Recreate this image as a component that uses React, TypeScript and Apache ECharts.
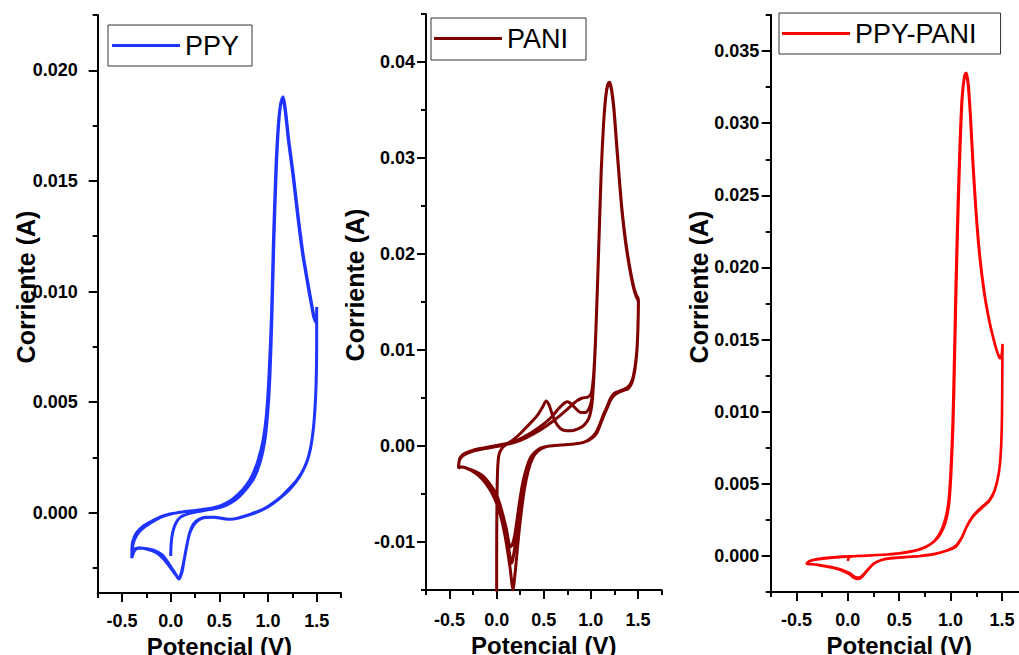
import React, { useEffect, useRef } from "react";
import * as echarts from "echarts";

type P = [number, number];

// ---------- tick values ----------
const xMajorTicks = [-0.5, 0, 0.5, 1.0, 1.5];
const xMinorTicks = [-0.75, -0.25, 0.25, 0.75, 1.25, 1.75];

const ppyMajorTicks = [0, 0.005, 0.01, 0.015, 0.02];
const ppyMinorTicks = [-0.0025, 0.0025, 0.0075, 0.0125, 0.0175, 0.0225];
const paniMajorTicks = [-0.01, 0, 0.01, 0.02, 0.03, 0.04];
const paniMinorTicks = [-0.015, -0.005, 0.005, 0.015, 0.025, 0.035, 0.045];
const mixMajorTicks = [0, 0.005, 0.01, 0.015, 0.02, 0.025, 0.03, 0.035];
const mixMinorTicks = [-0.0025, 0.0025, 0.0075, 0.0125, 0.0175, 0.0225, 0.0275, 0.0325, 0.0375];

const seriesNames = ["PPY", "PANI", "PPY-PANI"];

// ---------- PPY (potential V, current A) ----------
const ppyStart: P[] = [
  [0.0, -0.00196], [0.005, -0.0014], [0.02, -0.0009], [0.05, -0.0005], [0.1, -0.0002], [0.18, -0.00005], [0.28, 0.00005],
];
const ppyCycle1: P[] = [
  [0.4, 0.00014], [0.52, 0.00025], [0.62, 0.00045], [0.71, 0.00075], [0.79, 0.00115], [0.86, 0.0016], [0.92, 0.0023],
  [0.965, 0.0032], [0.995, 0.0044], [1.02, 0.0062], [1.04, 0.0088], [1.06, 0.0122], [1.085, 0.0155], [1.11, 0.0176],
  [1.135, 0.0186], [1.155, 0.0188], [1.18, 0.0182], [1.215, 0.0168], [1.26, 0.0153], [1.31, 0.0134], [1.36, 0.0117],
  [1.41, 0.0104], [1.45, 0.0094], [1.48, 0.0087], [1.495, 0.0086], [1.5, 0.0093],
  [1.5, 0.0079], [1.495, 0.006], [1.48, 0.0045], [1.455, 0.0034], [1.42, 0.0026], [1.37, 0.002], [1.3, 0.0015],
  [1.22, 0.0011], [1.13, 0.0007], [1.04, 0.0004], [0.95, 0.00015], [0.83, -0.00005], [0.72, -0.0002], [0.62, -0.0003],
  [0.54, -0.00026], [0.45, -0.0002], [0.36, -0.0002], [0.29, -0.0003], [0.235, -0.0005], [0.195, -0.0009],
  [0.165, -0.0015], [0.14, -0.0021], [0.115, -0.0027], [0.085, -0.003], [0.05, -0.0028], [0.0, -0.0025],
  [-0.07, -0.0021], [-0.15, -0.0018], [-0.24, -0.00165], [-0.32, -0.0016], [-0.37, -0.0017], [-0.4, -0.00205],
];
const ppyCycle2: P[] = [
  [-0.395, -0.0016], [-0.37, -0.0012], [-0.33, -0.0009], [-0.27, -0.00065], [-0.19, -0.00042], [-0.1, -0.0002],
  [0.0, -0.00006], [0.12, 0.00003], [0.25, 0.0001], [0.38, 0.00018], [0.5, 0.0003], [0.6, 0.0005], [0.69, 0.00082],
  [0.77, 0.0012], [0.84, 0.0017], [0.9, 0.0024], [0.95, 0.0033], [0.985, 0.0045], [1.01, 0.0062], [1.035, 0.0088],
  [1.055, 0.0122], [1.08, 0.0155], [1.105, 0.0175], [1.13, 0.0185], [1.15, 0.0187], [1.175, 0.0182], [1.21, 0.0168],
  [1.255, 0.0153], [1.305, 0.0134], [1.355, 0.0117], [1.405, 0.0104], [1.45, 0.0093], [1.48, 0.0087], [1.495, 0.0087],
  [1.5, 0.0092],
  [1.5, 0.0078], [1.495, 0.0059], [1.478, 0.0044], [1.452, 0.0033], [1.415, 0.0025], [1.36, 0.0019], [1.29, 0.0014],
  [1.21, 0.001], [1.12, 0.00065], [1.03, 0.00035], [0.93, 0.0001], [0.81, -0.0001], [0.7, -0.00024], [0.61, -0.0003],
  [0.53, -0.00026], [0.44, -0.0002], [0.35, -0.00022], [0.28, -0.00035], [0.23, -0.0006], [0.19, -0.001],
  [0.16, -0.0016], [0.135, -0.0022], [0.11, -0.0027], [0.08, -0.00295], [0.04, -0.0027], [-0.02, -0.0023],
  [-0.09, -0.0019], [-0.17, -0.0017], [-0.26, -0.00162], [-0.33, -0.0016], [-0.38, -0.00165], [-0.4, -0.0017],
];
const ppyEnd: P[] = [
  [-0.39, -0.0013], [-0.35, -0.0009], [-0.28, -0.0006], [-0.2, -0.0004], [-0.1, -0.00018], [0.0, -0.00004],
];

// ---------- PANI ----------
const paniStart: P[] = [
  [0.0, -0.02], [0.0, -0.012], [0.003, -0.006], [0.01, -0.0025], [0.025, -0.0009], [0.06, -0.0002], [0.11, 0.0002],
];
const paniCycle1: P[] = [
  [0.17, 0.0006], [0.24, 0.0012], [0.31, 0.0019], [0.38, 0.0026], [0.44, 0.0033], [0.49, 0.0041], [0.525, 0.0047],
  [0.555, 0.0043], [0.59, 0.0033], [0.63, 0.0024], [0.68, 0.0018], [0.74, 0.0016], [0.8, 0.0016], [0.87, 0.0018],
  [0.93, 0.0022], [0.98, 0.0029], [1.01, 0.0042], [1.03, 0.0068], [1.05, 0.011], [1.07, 0.0165], [1.09, 0.0225],
  [1.11, 0.0285], [1.135, 0.0335], [1.16, 0.0365], [1.185, 0.0378], [1.2, 0.0379], [1.22, 0.0372], [1.245, 0.0352],
  [1.27, 0.032], [1.3, 0.0282], [1.33, 0.0247], [1.37, 0.0213], [1.41, 0.0188], [1.45, 0.0168], [1.48, 0.0158],
  [1.5, 0.0154],
  [1.505, 0.0152], [1.5, 0.0125], [1.49, 0.0102], [1.47, 0.0083], [1.44, 0.0069], [1.4, 0.0062], [1.35, 0.0059],
  [1.3, 0.0057], [1.25, 0.0055], [1.21, 0.005], [1.18, 0.0043], [1.14, 0.0034], [1.1, 0.0024], [1.06, 0.0015],
  [1.01, 0.0009], [0.93, 0.0004], [0.82, 0.0002], [0.68, 0.0001], [0.56, 0.0], [0.47, -0.0002], [0.41, -0.0006],
  [0.36, -0.0012], [0.32, -0.0022], [0.28, -0.0037], [0.245, -0.0057], [0.215, -0.0078], [0.19, -0.0094],
  [0.165, -0.0103], [0.145, -0.0105], [0.1, -0.0085], [0.05, -0.0066], [0.0, -0.0051], [-0.07, -0.004],
  [-0.15, -0.0031], [-0.24, -0.0026], [-0.32, -0.0023], [-0.38, -0.0022], [-0.405, -0.0023],
];
const paniCycle2: P[] = [
  [-0.395, -0.0014], [-0.37, -0.001], [-0.32, -0.0007], [-0.24, -0.0004], [-0.14, -0.0002], [-0.03, 0.0], [0.08, 0.0002],
  [0.2, 0.0005], [0.3, 0.001], [0.4, 0.0016], [0.5, 0.0023], [0.58, 0.003], [0.65, 0.0038], [0.71, 0.0044],
  [0.75, 0.0046], [0.79, 0.0044], [0.84, 0.0039], [0.89, 0.0035], [0.94, 0.0035], [0.98, 0.0039], [1.01, 0.0049],
  [1.03, 0.0072], [1.05, 0.0112], [1.07, 0.0166], [1.09, 0.0226], [1.11, 0.0286], [1.135, 0.0336], [1.16, 0.0366],
  [1.185, 0.0378], [1.2, 0.0378], [1.22, 0.0371], [1.245, 0.0351], [1.27, 0.0319], [1.3, 0.0281], [1.33, 0.0246],
  [1.37, 0.0212], [1.41, 0.0187], [1.45, 0.0167], [1.48, 0.0157], [1.5, 0.0153],
  [1.505, 0.0151], [1.5, 0.0124], [1.49, 0.0101], [1.47, 0.0082], [1.44, 0.0068], [1.4, 0.0061], [1.35, 0.0058],
  [1.3, 0.0057], [1.25, 0.0054], [1.21, 0.0049], [1.18, 0.0042], [1.14, 0.0033], [1.1, 0.0023], [1.06, 0.0014],
  [1.01, 0.0008], [0.93, 0.0004], [0.82, 0.0002], [0.68, 0.0001], [0.56, 0.0], [0.48, -0.0002], [0.42, -0.0006],
  [0.37, -0.0012], [0.33, -0.0022], [0.29, -0.0038], [0.255, -0.006], [0.225, -0.0083], [0.195, -0.0104],
  [0.172, -0.0118], [0.16, -0.0122], [0.12, -0.0102], [0.07, -0.0078], [0.02, -0.006], [-0.05, -0.0046],
  [-0.13, -0.0035], [-0.22, -0.0028], [-0.3, -0.0024], [-0.37, -0.0022], [-0.405, -0.0022],
];
const paniCycle3: P[] = [
  [-0.395, -0.0015], [-0.37, -0.0011], [-0.32, -0.0008], [-0.24, -0.0005], [-0.14, -0.0003], [-0.03, -0.0001],
  [0.08, 0.0001], [0.2, 0.0004], [0.3, 0.0008], [0.4, 0.0013], [0.5, 0.0019], [0.6, 0.0026], [0.7, 0.0034],
  [0.78, 0.0041], [0.85, 0.0047], [0.91, 0.005], [0.97, 0.0051], [1.005, 0.0055], [1.03, 0.0075], [1.05, 0.0113],
  [1.07, 0.0167], [1.09, 0.0227], [1.11, 0.0287], [1.135, 0.0336], [1.16, 0.0366], [1.185, 0.0377], [1.2, 0.0377],
  [1.22, 0.037], [1.245, 0.035], [1.27, 0.0318], [1.3, 0.028], [1.33, 0.0245], [1.37, 0.0211], [1.41, 0.0186],
  [1.45, 0.0166], [1.48, 0.0156], [1.5, 0.0152],
  [1.505, 0.015], [1.5, 0.0123], [1.49, 0.01], [1.47, 0.0081], [1.44, 0.0067], [1.4, 0.006], [1.35, 0.0058],
  [1.3, 0.0056], [1.25, 0.0053], [1.21, 0.0048], [1.18, 0.0041], [1.14, 0.0032], [1.1, 0.0022], [1.06, 0.0013],
  [1.01, 0.0008], [0.93, 0.0004], [0.82, 0.0002], [0.68, 0.0001], [0.56, 0.0], [0.49, -0.0002], [0.43, -0.0006],
  [0.38, -0.0013], [0.34, -0.0024], [0.3, -0.0042], [0.265, -0.0066], [0.235, -0.0092], [0.21, -0.0118],
  [0.19, -0.0138], [0.175, -0.015], [0.14, -0.0125], [0.09, -0.0094], [0.04, -0.0072], [-0.02, -0.0055],
  [-0.1, -0.0041], [-0.19, -0.0031], [-0.28, -0.0025], [-0.36, -0.0022], [-0.405, -0.0022],
];

// ---------- PPY-PANI ----------
const mixStart: P[] = [
  [0.0, -0.00035], [0.01, -0.00012], [0.05, -0.00002], [0.12, 0.0],
];
const mixCycle1: P[] = [
  [0.25, 0.00005], [0.38, 0.0001], [0.5, 0.00018], [0.6, 0.0003], [0.69, 0.00045], [0.77, 0.00068], [0.84, 0.001],
  [0.9, 0.0015], [0.95, 0.0023], [0.985, 0.0036], [1.005, 0.0056], [1.025, 0.009], [1.04, 0.0135], [1.055, 0.0185],
  [1.075, 0.024], [1.095, 0.0285], [1.115, 0.0318], [1.14, 0.0334], [1.155, 0.0335], [1.175, 0.0326], [1.195, 0.0305],
  [1.22, 0.0272], [1.25, 0.0238], [1.285, 0.0208], [1.33, 0.0182], [1.38, 0.0162], [1.42, 0.015], [1.455, 0.0141],
  [1.48, 0.0137], [1.495, 0.0138], [1.505, 0.0147],
  [1.503, 0.0128], [1.5, 0.0098], [1.49, 0.0074], [1.47, 0.0058], [1.43, 0.0046], [1.38, 0.0039], [1.32, 0.0035],
  [1.26, 0.0031], [1.21, 0.0027], [1.16, 0.0021], [1.11, 0.0013], [1.05, 0.0007], [0.97, 0.0004], [0.85, 0.00015],
  [0.7, 0.0], [0.55, -0.00008], [0.42, -0.00015], [0.33, -0.00028], [0.26, -0.0005], [0.2, -0.0009], [0.15, -0.0013],
  [0.11, -0.0015], [0.07, -0.00145], [0.02, -0.0012], [-0.06, -0.00095], [-0.15, -0.00078], [-0.25, -0.00066],
  [-0.34, -0.00058], [-0.4, -0.00053],
];
const mixCycle2: P[] = [
  [-0.37, -0.00035], [-0.3, -0.00022], [-0.2, -0.00013], [-0.08, -0.00006], [0.05, -0.00002], [0.2, 0.00003],
  [0.35, 0.00008], [0.48, 0.00015], [0.6, 0.00028], [0.7, 0.00044], [0.78, 0.0007], [0.85, 0.0011], [0.905, 0.0017],
  [0.95, 0.0026], [0.98, 0.0038], [1.0, 0.0058], [1.02, 0.0092], [1.035, 0.0137], [1.05, 0.0187], [1.07, 0.0242],
  [1.09, 0.0287], [1.11, 0.0318], [1.135, 0.0333], [1.15, 0.0334], [1.17, 0.0326], [1.19, 0.0306], [1.215, 0.0273],
  [1.245, 0.0239], [1.28, 0.0209], [1.325, 0.0183], [1.375, 0.0163], [1.415, 0.0151], [1.45, 0.0142], [1.478, 0.0138],
  [1.495, 0.0139], [1.505, 0.0146],
  [1.503, 0.0127], [1.5, 0.0097], [1.49, 0.0073], [1.468, 0.0057], [1.428, 0.0045], [1.375, 0.0038], [1.315, 0.0034],
  [1.255, 0.003], [1.205, 0.0026], [1.155, 0.002], [1.105, 0.0012], [1.045, 0.0006], [0.96, 0.00035], [0.84, 0.00012],
  [0.69, -0.00002], [0.54, -0.0001], [0.41, -0.00017], [0.32, -0.0003], [0.25, -0.00055], [0.19, -0.001],
  [0.14, -0.00145], [0.1, -0.0016], [0.06, -0.00152], [0.01, -0.00125], [-0.07, -0.00098], [-0.16, -0.0008],
  [-0.26, -0.00067], [-0.35, -0.00058], [-0.4, -0.00055],
];
const mixEnd: P[] = [
  [-0.37, -0.00036], [-0.3, -0.00024], [-0.2, -0.00015], [-0.08, -0.00008], [0.02, -0.00004],
];

const ppyTrace: P[] = [...ppyStart, ...ppyCycle1, ...ppyCycle2, ...ppyEnd];
const paniTrace: P[] = [...paniStart, ...paniCycle1, ...paniCycle2, ...paniCycle3];
const mixTrace: P[] = [...mixStart, ...mixCycle1, ...mixCycle2, ...mixEnd];

// ---------- layout / style ----------
const FONT = '"Liberation Sans", Arial, Helvetica, sans-serif';

const panels = [
  {
    name: seriesNames[0], data: ppyTrace, color: "#1f35ff", lw: 3,
    yMin: -0.00363, yMax: 0.0225, yMajor: ppyMajorTicks, yMinor: ppyMinorTicks, dec: 3,
    grid: { left: 97.7, top: 15, width: 243.3, height: 578 },
    yLabelMargin: 20, xLabelMargin: 19,
    titleX: 26, titleY: 287,
    legend: { left: 108, top: 25, padding: [7, 13, 7, 4] },
  },
  {
    name: seriesNames[1], data: paniTrace, color: "#7f0000", lw: 3,
    yMin: -0.015, yMax: 0.045, yMajor: paniMajorTicks, yMinor: paniMinorTicks, dec: 2,
    grid: { left: 426, top: 14, width: 235.5, height: 576 },
    yLabelMargin: 11, xLabelMargin: 21,
    titleX: 355, titleY: 285,
    legend: { left: 431, top: 18, padding: [7, 18, 8, 3] },
  },
  {
    name: seriesNames[2], data: mixTrace, color: "#ff0000", lw: 2.6,
    yMin: -0.0025, yMax: 0.0375, yMajor: mixMajorTicks, yMinor: mixMinorTicks, dec: 3,
    grid: { left: 770.7, top: 15, width: 257, height: 577 },
    yLabelMargin: 11.5, xLabelMargin: 18.5,
    titleX: 699, titleY: 287,
    legend: { left: 779, top: 13, padding: [7, 24, 7, 3] },
  },
];

function buildOption(): any {
  const grid: any[] = [];
  const xAxis: any[] = [];
  const yAxis: any[] = [];
  const series: any[] = [];
  const legend: any[] = [];
  const graphic: any[] = [];
  const lineStyle = { color: "#000", width: 2 };
  const labelBase = { color: "#000", fontSize: 18, fontWeight: "bold", fontFamily: FONT };

  panels.forEach((p, i) => {
    grid.push({ ...p.grid, containLabel: false, outerBoundsMode: "none" });
    xAxis.push({
      type: "value", gridIndex: i, position: "bottom", min: -0.75, max: 1.75,
      axisLine: { show: true, onZero: false, lineStyle },
      axisTick: { show: true, length: 9, inside: false, customValues: xMajorTicks, lineStyle },
      axisLabel: { ...labelBase, margin: p.xLabelMargin, customValues: xMajorTicks, formatter: (v: number) => v.toFixed(1) },
      splitLine: { show: false },
      name: "Potencial (V)", nameLocation: "middle", nameGap: 39,
      nameTextStyle: { color: "#000", fontSize: 24, fontWeight: "bold", fontFamily: FONT },
    });
    xAxis.push({
      type: "value", gridIndex: i, position: "bottom", offset: 0, min: -0.75, max: 1.75,
      axisLine: { show: false, onZero: false },
      axisTick: { show: true, length: 5, customValues: xMinorTicks, lineStyle },
      axisLabel: { show: false },
      splitLine: { show: false },
    });
    yAxis.push({
      type: "value", gridIndex: i, position: "left", min: p.yMin, max: p.yMax,
      axisLine: { show: true, onZero: false, lineStyle },
      axisTick: { show: true, length: 9, customValues: p.yMajor, lineStyle },
      axisLabel: { ...labelBase, margin: p.yLabelMargin, customValues: p.yMajor, formatter: (v: number) => v.toFixed(p.dec) },
      splitLine: { show: false },
    });
    yAxis.push({
      type: "value", gridIndex: i, position: "left", offset: 0, min: p.yMin, max: p.yMax,
      axisLine: { show: false, onZero: false },
      axisTick: { show: true, length: 5, customValues: p.yMinor, lineStyle },
      axisLabel: { show: false },
      splitLine: { show: false },
    });
    series.push({
      type: "line", name: p.name, xAxisIndex: i * 2, yAxisIndex: i * 2,
      data: p.data, symbol: "none", showSymbol: false, smooth: 0.25, clip: true,
      lineStyle: { color: p.color, width: p.lw }, itemStyle: { color: p.color },
    });
    legend.push({
      data: [{ name: p.name, icon: "rect" }], left: p.legend.left, top: p.legend.top, padding: p.legend.padding,
      orient: "horizontal", borderColor: "#333", borderWidth: 1, backgroundColor: "#fff",
      itemWidth: 68, itemHeight: 3, selectedMode: false,
      itemStyle: { color: p.color, borderWidth: 0 },
      textStyle: { color: "#000", fontSize: 27, fontFamily: FONT },
    });
    graphic.push({
      type: "text", x: p.titleX, y: p.titleY, rotation: Math.PI / 2, z: 100,
      style: {
        text: "Corriente (A)", fill: "#000",
        font: `bold 25px ${FONT}`,
        align: "center", verticalAlign: "middle",
        textAlign: "center", textVerticalAlign: "middle",
      },
    });
  });

  return {
    animation: false,
    backgroundColor: "#ffffff",
    grid, xAxis, yAxis, series, legend, graphic,
  };
}

export default function App() {
  const ref = useRef<HTMLDivElement>(null);
  useEffect(() => {
    if (!ref.current) return;
    const chart = echarts.init(ref.current, undefined, { renderer: "svg" });
    chart.setOption(buildOption());
    return () => chart.dispose();
  }, []);
  return (
    <div
      ref={ref}
      style={{ position: "fixed", left: 0, top: 0, width: 1019, height: 655, background: "#fff" }}
    />
  );
}
